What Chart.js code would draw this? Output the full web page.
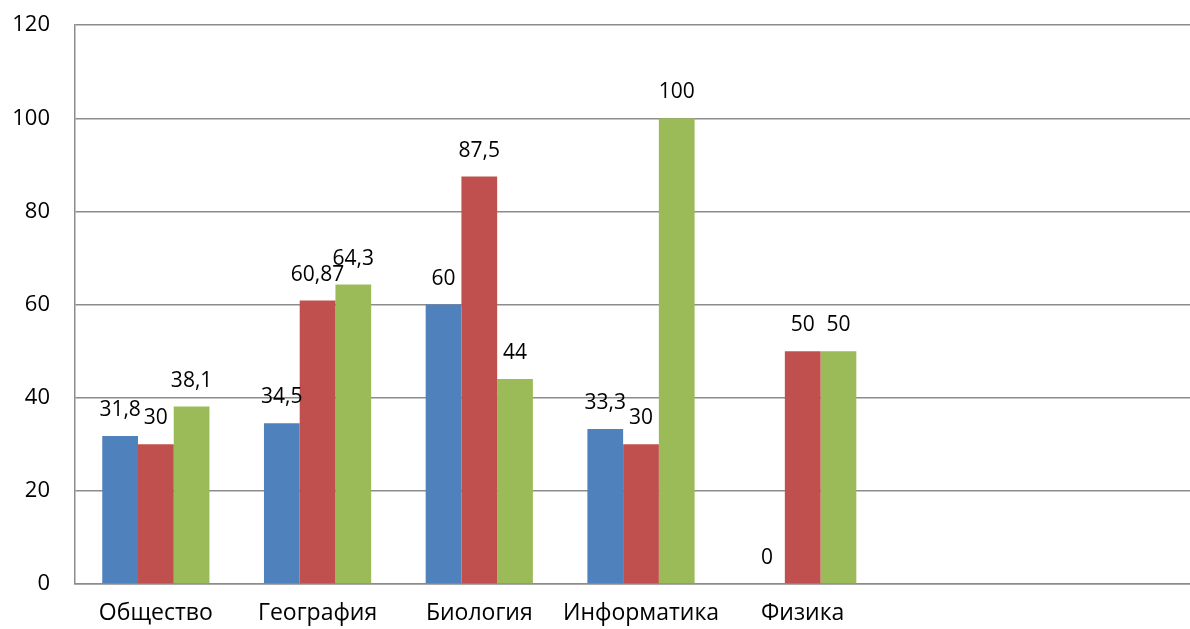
<!DOCTYPE html>
<html>
<head>
<meta charset="utf-8">
<script src="https://cdn.jsdelivr.net/npm/chart.js@4"></script>
<style>
    html, body { margin: 0; padding: 0; background: #fff; overflow: hidden; }
    #wrap { position: relative; width: 1210px; height: 642px; margin-top: -13px; }
</style>
</head>
<body>
<div id="wrap"><canvas id="myChart"></canvas></div>
<script>
// du lieu
var categories = ["Общество", "География", "Биология", "Информатика", "Физика", "", ""];
var series1 = [31.8, 34.5, 60, 33.3, 0, null, null];
var series2 = [30, 60.87, 87.5, 30, 50, null, null];
var series3 = [38.1, 64.3, 44, 100, 50, null, null];
var yTicks = [0, 20, 40, 60, 80, 100, 120];

var fontName = "'Open Sans', 'DejaVu Sans', sans-serif";

// ve nhan so lieu tren cot
var nhanCot = {
    id: "nhanCot",
    afterDatasetsDraw: function (chart) {
        var ctx = chart.ctx;
        ctx.save();
        ctx.font = "21px " + fontName;
        ctx.fillStyle = "#000";
        ctx.textAlign = "center";
        ctx.textBaseline = "middle";
        chart.data.datasets.forEach(function (ds, i) {
            chart.getDatasetMeta(i).data.forEach(function (bar, j) {
                var v = ds.data[j];
                if (v === null || v === undefined) return;
                var txt = String(v).replace(".", ",");
                ctx.fillText(txt, bar.x, bar.y - 26);
            });
        });
        ctx.restore();
    }
};

function VeDoThi() {
    new Chart("myChart", {
        type: "bar",
        data: {
            labels: categories,
            datasets: [
                { data: series1, backgroundColor: "#4f81bd" },
                { data: series2, backgroundColor: "#c0504d" },
                { data: series3, backgroundColor: "#9bbb59" }
            ]
        },
        options: {
            responsive: true,
            maintainAspectRatio: false,
            animation: false,
            layout: { padding: { top: 14, right: 3, left: 0, bottom: 0 } },
            datasets: { bar: { categoryPercentage: 0.663, barPercentage: 1 } },
            plugins: { legend: { display: false }, tooltip: { enabled: false } },
            scales: {
                x: {
                    grid: { display: false, drawTicks: false },
                    border: { color: "#8c8c8c", width: 1.5 },
                    ticks: { color: "#000", font: { size: 23, family: fontName }, padding: 16, maxRotation: 0, autoSkip: false },
                    afterFit: function (s) { s.height = 45; }
                },
                y: {
                    min: 0,
                    max: 120,
                    afterBuildTicks: function (s) { s.ticks = yTicks.map(function (v) { return { value: v }; }); },
                    grid: { color: "#8c8c8c", lineWidth: 1.5, drawTicks: false },
                    border: { color: "#8c8c8c", width: 1.5 },
                    ticks: { color: "#000", font: { size: 22, family: fontName }, padding: 25 },
                    afterFit: function (s) { s.width = 75; }
                }
            }
        },
        plugins: [nhanCot]
    });
}

VeDoThi();
</script>
</body>
</html>
